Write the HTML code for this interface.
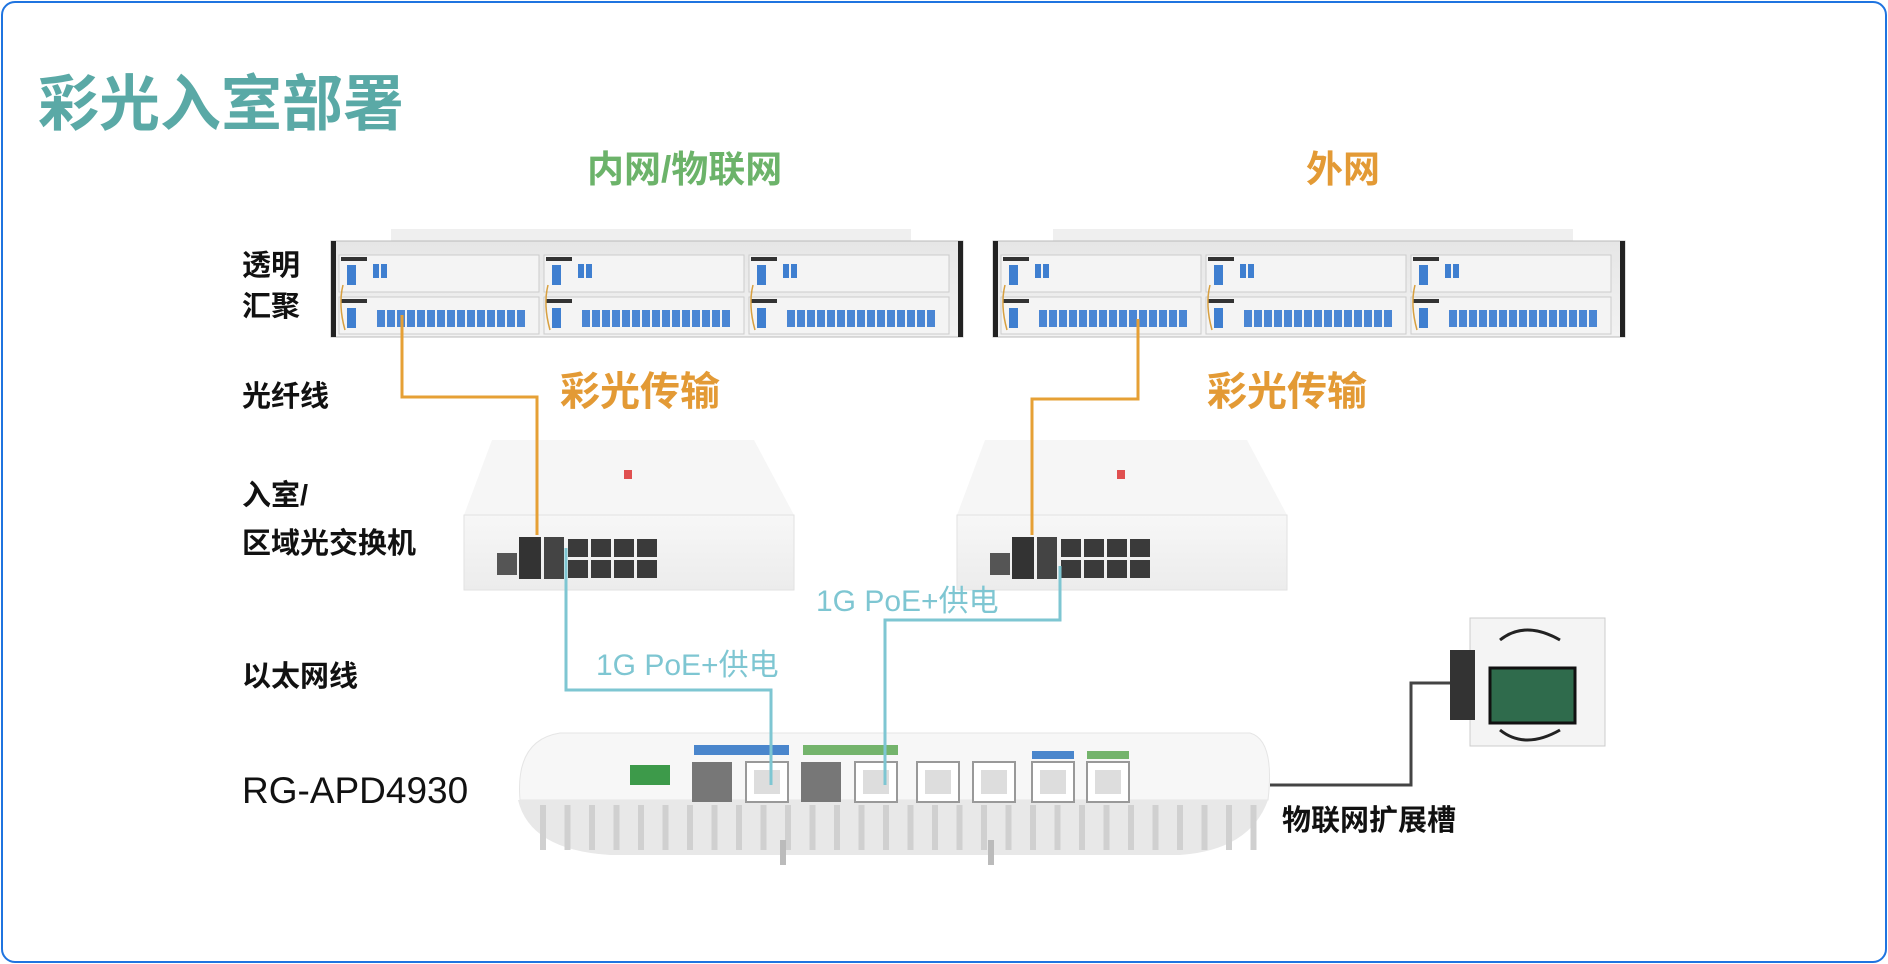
<!DOCTYPE html>
<html><head><meta charset="utf-8"><style>
html,body{margin:0;padding:0;background:#fff;}
body{width:1888px;height:964px;overflow:hidden;position:relative;font-family:"Liberation Sans","Noto Sans CJK SC",sans-serif;}
.frame{position:absolute;left:1px;top:1px;width:1882px;height:958px;border:2px solid #1f74e0;border-radius:14px;}
.t{position:absolute;white-space:nowrap;line-height:1;}
.lab{font-weight:bold;font-size:29px;color:#111;}
</style></head><body>
<div class="frame"></div>
<svg id="s" width="1888" height="964" style="position:absolute;left:0;top:0">
<defs>
<linearGradient id="rk" x1="0" y1="0" x2="0" y2="1"><stop offset="0" stop-color="#e6e6e6"/><stop offset="1" stop-color="#f2f2f2"/></linearGradient>
<linearGradient id="sw" x1="0" y1="0" x2="0" y2="1"><stop offset="0" stop-color="#f7f7f7"/><stop offset="1" stop-color="#ececec"/></linearGradient>
</defs>
<g id="g"></g>
</svg>
<div class="t" style="left:38px;top:74px;font-size:61px;font-weight:bold;color:#5aa9a6;">彩光入室部署</div>
<div class="t" style="left:587px;top:151px;font-size:37px;font-weight:bold;color:#6cb36a;">内网/物联网</div>
<div class="t" style="left:1306px;top:151px;font-size:37px;font-weight:bold;color:#e39a35;">外网</div>
<div class="t" style="left:560px;top:372px;font-size:40px;font-weight:bold;color:#e39a35;">彩光传输</div>
<div class="t" style="left:1207px;top:372px;font-size:40px;font-weight:bold;color:#e39a35;">彩光传输</div>
<div class="t" style="left:596px;top:651px;font-size:30px;color:#7ec6d2;">1G PoE+供电</div>
<div class="t" style="left:816px;top:587px;font-size:30px;color:#7ec6d2;">1G PoE+供电</div>
<div class="t lab" style="left:242px;top:252px;">透明</div>
<div class="t lab" style="left:242px;top:293px;">汇聚</div>
<div class="t lab" style="left:242px;top:383px;">光纤线</div>
<div class="t lab" style="left:242px;top:482px;">入室/</div>
<div class="t lab" style="left:242px;top:530px;">区域光交换机</div>
<div class="t lab" style="left:242px;top:663px;">以太网线</div>
<div class="t" style="left:242px;top:772px;font-size:37px;color:#111;">RG-APD4930</div>
<div class="t lab" style="left:1282px;top:807px;">物联网扩展槽</div>
<script>
const g=document.getElementById('g');let h='';
function rack(x){
 h+=`<rect x="${x+60}" y="229" width="520" height="14" fill="#efefef"/>`;
 h+=`<rect x="${x}" y="241" width="632" height="96" fill="url(#rk)" stroke="#bbb"/>`;
 h+=`<rect x="${x}" y="241" width="5" height="96" fill="#222"/><rect x="${x+627}" y="241" width="5" height="96" fill="#222"/>`;
 for(let m=0;m<3;m++){let mx=x+8+m*205;
  h+=`<rect x="${mx}" y="255" width="200" height="37" fill="#f4f4f4" stroke="#ccc"/><rect x="${mx}" y="297" width="200" height="37" fill="#f4f4f4" stroke="#ccc"/>`;
  h+=`<rect x="${mx+2}" y="257" width="26" height="4" fill="#333"/><rect x="${mx+2}" y="299" width="26" height="4" fill="#333"/>`;
  h+=`<rect x="${mx+8}" y="265" width="9" height="20" fill="#3f7fd0"/><rect x="${mx+8}" y="308" width="9" height="20" fill="#3f7fd0"/>`;
  h+=`<rect x="${mx+34}" y="264" width="6" height="14" fill="#3f7fd0"/><rect x="${mx+42}" y="264" width="6" height="14" fill="#3f7fd0"/>`;
  for(let i=0;i<15;i++)h+=`<rect x="${mx+38+i*10}" y="310" width="8" height="17" fill="#4a86d4"/>`;
  h+=`<path d="M${mx+4} 285 q-5 20 2 45" stroke="#d8a040" fill="none" stroke-width="1.5"/>`;
 }
}
rack(331);rack(993);
function sw(x){
 h+=`<path d="M${x+28} 440 L${x+290} 440 L${x+330} 515 L${x} 515 Z" fill="#f6f6f6"/>`;
 h+=`<rect x="${x}" y="515" width="330" height="75" fill="url(#sw)" stroke="#e2e2e2"/>`;
 h+=`<rect x="${x+160}" y="470" width="8" height="9" fill="#e05050"/>`;
 h+=`<rect x="${x+33}" y="553" width="20" height="22" fill="#555"/>`;
 h+=`<rect x="${x+55}" y="537" width="22" height="42" fill="#333"/><rect x="${x+80}" y="537" width="20" height="42" fill="#444"/>`;
 for(let r=0;r<2;r++)for(let c=0;c<4;c++)h+=`<rect x="${x+104+c*23}" y="${539+r*21}" width="20" height="18" fill="#3a3a3a"/>`;
}
sw(464);sw(957);
h+=`<path d="M520 800 Q515 740 560 733 L1250 733 Q1275 740 1268 800 Z" fill="#f7f7f7" stroke="#e5e5e5"/>`;
h+=`<path d="M518 800 L1268 800 Q1250 850 1180 855 L610 855 Q530 850 518 800 Z" fill="#e8e8e8"/>`;
for(let i=0;i<30;i++){let fx=540+i*24.5;h+=`<rect x="${fx}" y="805" width="6" height="45" fill="#d0d0d0"/>`;}
h+=`<rect x="780" y="840" width="6" height="25" fill="#bbb"/><rect x="988" y="840" width="6" height="25" fill="#bbb"/>`;
h+=`<rect x="630" y="765" width="40" height="20" fill="#3d9a4a"/>`;
const ports=[[692,'s'],[746,'r'],[801,'s'],[855,'r'],[917,'r'],[973,'r'],[1032,'r'],[1087,'r']];
for(const [px,t] of ports){ if(t=='s')h+=`<rect x="${px}" y="762" width="40" height="40" fill="#777"/>`; else h+=`<rect x="${px}" y="762" width="42" height="40" fill="#fff" stroke="#999" stroke-width="2"/><rect x="${px+8}" y="770" width="26" height="24" fill="#ddd"/>`;}
h+=`<rect x="694" y="745" width="95" height="10" fill="#4a86cc"/><rect x="803" y="745" width="95" height="10" fill="#74b46c"/><rect x="1032" y="751" width="42" height="8" fill="#4a86cc"/><rect x="1087" y="751" width="42" height="8" fill="#74b46c"/>`;
h+=`<rect x="1470" y="618" width="135" height="128" fill="#f4f4f4" stroke="#ccc"/><rect x="1450" y="650" width="25" height="70" fill="#333"/><rect x="1490" y="668" width="85" height="55" fill="#2f6b4c" stroke="#111" stroke-width="3"/>`;
h+=`<path d="M1500 640 q25 -20 60 0 M1500 730 q25 20 60 0" stroke="#222" stroke-width="3" fill="none"/>`;
h+=`<polyline points="402,315 402,397 537,397 537,535" fill="none" stroke="#e6a035" stroke-width="3"/>`;
h+=`<polyline points="1138,319 1138,399 1032,399 1032,535" fill="none" stroke="#e6a035" stroke-width="3"/>`;
h+=`<polyline points="566,548 566,690 771,690 771,785" fill="none" stroke="#7ec6d2" stroke-width="3"/>`;
h+=`<polyline points="1060,566 1060,620 885,620 885,785" fill="none" stroke="#7ec6d2" stroke-width="3"/>`;
h+=`<polyline points="1270,785 1411,785 1411,683 1450,683" fill="none" stroke="#444" stroke-width="3"/>`;
g.innerHTML=h;
</script>
</body></html>
